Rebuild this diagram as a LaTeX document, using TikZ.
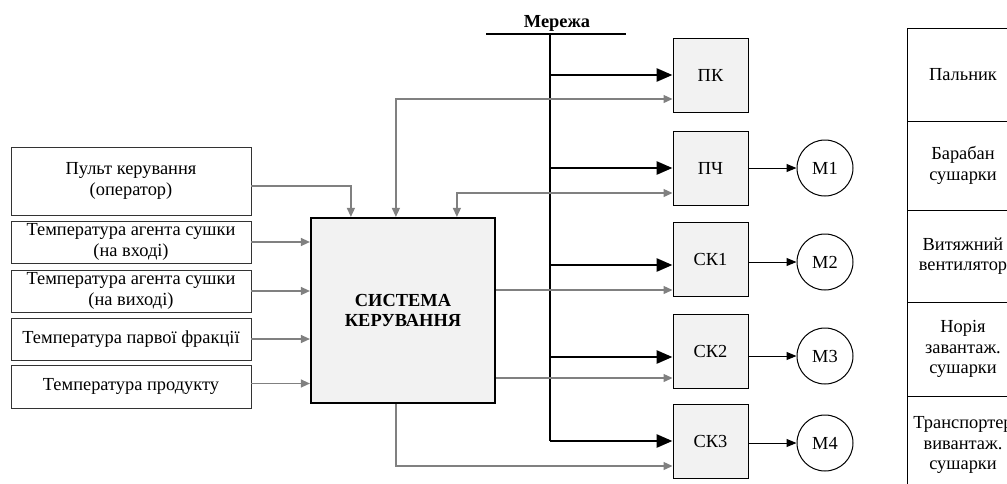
\documentclass[tikz,border=0pt]{standalone}
\usepackage{fontspec}
\setmainfont{Liberation Serif}
\usetikzlibrary{arrows.meta,positioning,calc}
\definecolor{sigline}{RGB}{128,128,128}
\definecolor{boxbg}{RGB}{242,242,242}
\newcommand{\diagfont}{\fontsize{18.4}{20.5}\selectfont}
\tikzset{
  inbox/.style={draw=black!80,fill=white,align=center,inner sep=1pt,
                minimum width=240,line width=0.8pt},
  ctrl/.style={draw=black,fill=boxbg,line width=2.2pt,align=center,
               font=\diagfont\bfseries,minimum width=184,minimum height=185},
  drv/.style={draw=black,fill=boxbg,line width=1pt,minimum width=75,minimum height=74},
  motor/.style={draw=black,circle,line width=1pt,minimum size=56,inner sep=0pt},
  cell/.style={draw=black,line width=0.8pt,align=center,inner sep=0pt,minimum width=112},
  pwr/.style={-{Triangle[length=16pt,width=13pt]},line width=2.8pt},
  netbar/.style={line width=2.8pt},
  sig/.style={-{Triangle[length=9pt,width=8pt]},draw=sigline,line width=1.3pt},
  sigb/.style={sig,{Triangle[length=9pt,width=8pt]}-{Triangle[length=9pt,width=8pt]}},
  mot/.style={-{Triangle[length=10pt,width=8pt]},line width=1pt},
}

\begin{document}
\begin{tikzpicture}[x=1pt,y=-1pt,font=\diagfont]

  \useasboundingbox (0,0) rectangle (1007,483);
  \clip (0,0) rectangle (1007,483);

  % --- входи ---------------------------------------------------------------
  \node[inbox,minimum height=68] (pult) at (131,181)
        {Пульт керування\\(оператор)};
  \node[inbox,minimum height=42] (tin)  at (131,242)
        {Температура агента сушки\\(на вході)};
  \node[inbox,minimum height=42] (tout) at (131,291)
        {Температура агента сушки\\(на виході)};
  \node[inbox,minimum height=42] (tfr)  at (131,339)
        {Температура парвої фракції};
  \node[inbox,minimum height=43] (tpr)  at (131,386.5)
        {Температура продукту};

  % --- система керування --------------------------------------------------
  \node[ctrl] (sys) at (403,310.5) {СИСТЕМА\\КЕРУВАННЯ};

  % --- мережа -------------------------------------------------------------
  \coordinate (netL) at (486,34);
  \coordinate (netR) at (626,34);
  \coordinate (busT) at (550,34);
  \coordinate (busB) at (550,441);
  \node[font=\diagfont\bfseries,anchor=base] (net) at (557,27) {Мережа};
  \draw[netbar] (netL) -- (netR);
  \draw[netbar] (busT) -- (busB);

  % --- пристрої керування -------------------------------------------------
  \node[drv] (pk)  at (710.5,75)    {ПК};
  \node[drv] (pch) at (710.5,168.5) {ПЧ};
  \node[drv] (sk1) at (710.5,259.5) {СК1};
  \node[drv] (sk2) at (710.5,351)   {СК2};
  \node[drv] (sk3) at (710.5,441)   {СК3};

  % --- двигуни ------------------------------------------------------------
  \node[motor] (m1) at (825,168) {M1};
  \node[motor] (m2) at (825,262) {M2};
  \node[motor] (m3) at (825,356) {M3};
  \node[motor] (m4) at (825,443) {M4};

  % --- таблиця механізмів -------------------------------------------------
  \node[cell,minimum height=93] (c1) at (963,74.5)  {Пальник};
  \node[cell,minimum height=89] (c2) at (963,165.5) {Барабан\\сушарки};
  \node[cell,minimum height=92] (c3) at (963,256)   {Витяжний\\вентилятор};
  \node[cell,minimum height=94] (c4) at (963,349)   {Норія\\завантаж.\\сушарки};
  \node[cell,minimum height=98] (c5) at (963,445)   {Транспортер\\вивантаж.\\сушарки};

  % --- мережа -> пристрої -------------------------------------------------
  \coordinate (b1) at (550,75);
  \coordinate (b2) at (550,168);
  \coordinate (b3) at (550,265);
  \coordinate (b4) at (550,357);
  \coordinate (b5) at (550,441);
  \draw[pwr] (b1) -- (b1 -| pk.west);
  \draw[pwr] (b2) -- (b2 -| pch.west);
  \draw[pwr] (b3) -- (b3 -| sk1.west);
  \draw[pwr] (b4) -- (b4 -| sk2.west);
  \draw[pwr] (b5) -- (b5 -| sk3.west);

  % --- входи -> система ---------------------------------------------------
  \draw[sig] ([yshift=-5pt]pult.east) -| ([xshift=41pt]sys.north west);
  \draw[sig] (tin.east)  -- (tin.east -| sys.west);
  \draw[sig] (tout.east) -- (tout.east -| sys.west);
  \draw[sig] (tfr.east)  -- (tfr.east -| sys.west);
  \draw[sig] ([yshift=3pt]tpr.east) -- ([yshift=3pt]tpr.east -| sys.west);

  % --- система <-> пристрої -----------------------------------------------
  \draw[sigb] ([xshift=86pt]sys.north west)  |- ([yshift=-24pt]pk.west);
  \draw[sigb] ([xshift=147pt]sys.north west) |- ([yshift=-24.5pt]pch.west);
  \draw[sig]  ([yshift=20.5pt]sys.east)  -- ([yshift=-30.5pt]sk1.west);
  \draw[sig]  ([yshift=-67.5pt]sys.east) -- ([yshift=-27pt]sk2.west);
  \draw[sig]  ([xshift=86pt]sys.south west) |- ([yshift=-25pt]sk3.west);

  % --- пристрої -> двигуни ------------------------------------------------
  \draw[mot] (pch.east |- m1) -- (m1);
  \draw[mot] (sk1.east |- m2) -- (m2);
  \draw[mot] (sk2.east |- m3) -- (m3);
  \draw[mot] (sk3.east |- m4) -- (m4);

\end{tikzpicture}
\end{document}
